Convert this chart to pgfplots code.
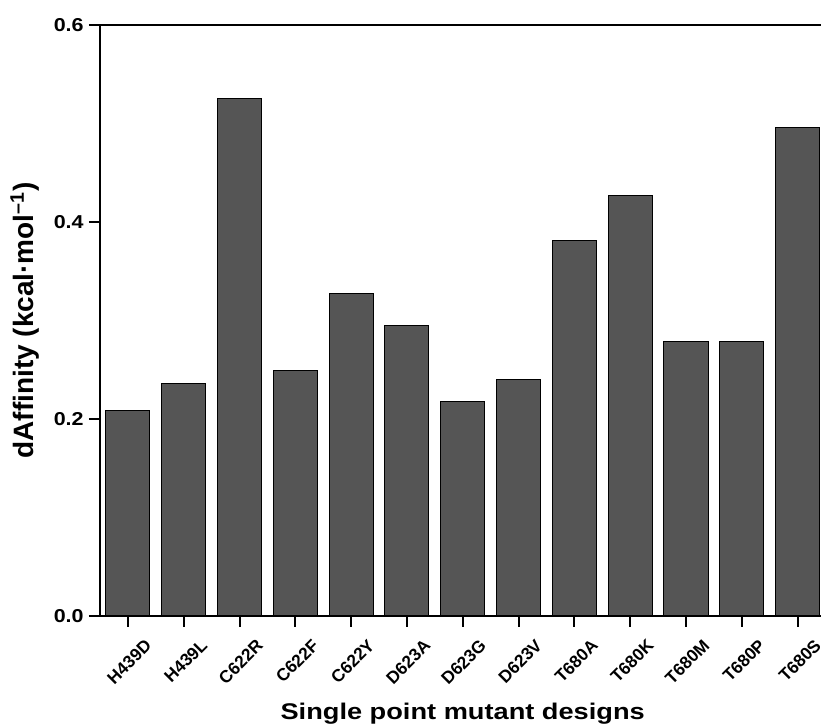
\documentclass[border=0pt]{standalone}
\usepackage{fontspec}
\setmainfont{Liberation Sans}
\usepackage{pgfplots}
\pgfplotsset{compat=1.18}
\definecolor{barfill}{HTML}{555555}
\begin{document}
\begin{tikzpicture}
\begin{axis}[
  name=ax,
  scale only axis,
  width=540.75pt, height=443.25pt,
  xmin=-0.5, xmax=12.42,
  ymin=0, ymax=0.6,
  axis lines*=left,
  axis line style={line width=1.5pt, line cap=rect},
  tick align=outside,
  tick pos=left,
  major tick length=8.25pt,
  tick style={line width=1.5pt, black},
  xtick={0,1,2,3,4,5,6,7,8,9,10,11,12},
  xticklabels={H439D,H439L,C622R,C622F,C622Y,D623A,D623G,D623V,T680A,T680K,T680M,T680P,T680S},
  ytick={0,0.2,0.4,0.6},
  /pgf/number format/assume math mode=true,
  yticklabel={\scalebox{1.15}[1]{\pgfmathprintnumber[fixed,fixed zerofill,precision=1]{\tick}}},
  yticklabel style={font=\bfseries\fontsize{14}{16}\selectfont, xshift=-0.5pt},
  xticklabel style={font=\bfseries\fontsize{13}{15}\selectfont, xshift=17.75pt, yshift=-9.25pt, rotate=45, anchor=east},
  xlabel={\scalebox{1.2}[1]{Single point mutant designs}},
  xlabel style={font=\bfseries\fontsize{17}{20}\selectfont, at={(axis description cs:0.503,-0.166)}, anchor=center},
  ylabel={dAffinity (kcal·mol\textsuperscript{–1})},
  ylabel style={font=\bfseries\fontsize{21}{24}\selectfont, at={(axis description cs:-0.104,0.5)}, anchor=center, rotate=0},
]
\addplot[ybar, bar width=0.79, fill=barfill, draw=black, line width=0.75pt] coordinates {
  (0,0.209) (1,0.236) (2,0.525) (3,0.249) (4,0.327) (5,0.295) (6,0.218)
  (7,0.240) (8,0.381) (9,0.427) (10,0.279) (11,0.279) (12,0.496)
};
\end{axis}
\draw[line width=1.5pt, line cap=rect] (ax.north west) -- (ax.north east);
\pgfresetboundingbox
\path ([xshift=-75pt,yshift=-82.5pt]ax.south west) rectangle ([yshift=18.75pt]ax.north east);
\end{tikzpicture}
\end{document}
